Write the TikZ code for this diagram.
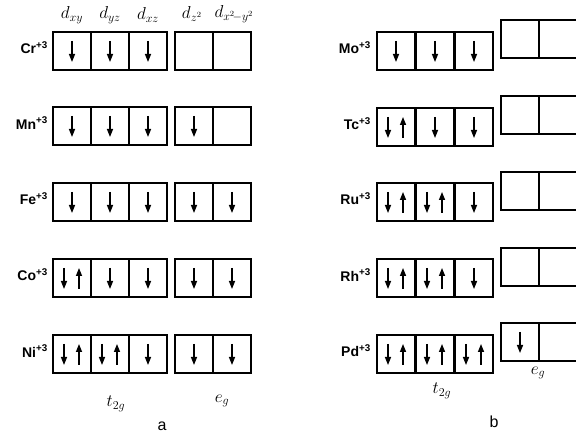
\documentclass[tikz,border=0pt]{standalone}
\usepackage{fontspec}
\setsansfont{Liberation Sans}
\usetikzlibrary{arrows.meta}
\tikzset{
  cell/.style={draw, rectangle, minimum width=38pt, minimum height=38pt, inner sep=0pt, line width=1.7pt},
  spin/.style={line width=1.4pt, -{Triangle[length=8pt,width=6pt]}},
  ion/.style={anchor=east, font=\sffamily\bfseries\fontsize{14}{16}\selectfont, inner sep=0pt},
  orb/.style={font=\fontsize{17}{19}\selectfont, inner sep=0pt},
  sym/.style={font=\fontsize{18}{20}\selectfont, inner sep=0pt},
  panel/.style={font=\sffamily\fontsize{16}{18}\selectfont, inner sep=0pt}
}
% #1 node name, #2 x, #3 y, #4 occupancy (0,1,2)
\newcommand{\orbcell}[4]{%
  \node[cell] (#1) at (#2,#3) {};
  \ifnum#4=1
    \draw[spin] ([yshift=10pt]#1.center) -- ([yshift=-11pt]#1.center);
  \fi
  \ifnum#4=2
    \draw[spin] ([xshift=-8pt,yshift=10pt]#1.center) -- ([xshift=-8pt,yshift=-11pt]#1.center);
    \draw[spin] ([xshift=7pt,yshift=-11pt]#1.center) -- ([xshift=7pt,yshift=10pt]#1.center);
  \fi
}
\newcommand{\chg}{\textsuperscript{+3}}
\begin{document}
\begin{tikzpicture}[x=1pt,y=-1pt]
\useasboundingbox (0,0) rectangle (576,435);
% ---------- panel a ----------
\node[orb] (dxy) at (72,15) {$d_{xy}$};
\node[orb] (dyz) at (110,15) {$d_{yz}$};
\node[orb] (dxz) at (148,15) {$d_{xz}$};
\node[orb] (dz2) at (192,14) {$d_{z^2}$};
\node[orb] (dx2) at (234,14) {$d_{x^2\!-y^2}$};
\foreach \nm/\y/\a/\b/\c/\d/\e/\lab in {
  Cr/51/1/1/1/0/0/{Cr\chg},
  Mn/126/1/1/1/1/0/{Mn\chg},
  Fe/202/1/1/1/1/1/{Fe\chg},
  Co/278/2/1/1/1/1/{Co\chg},
  Ni/354/2/2/1/1/1/{Ni\chg}}{
  \node[ion] (\nm lab) at (48,\y-3) {\lab};
  \orbcell{\nm t1}{72}{\y}{\a}
  \orbcell{\nm t2}{110}{\y}{\b}
  \orbcell{\nm t3}{148}{\y}{\c}
  \orbcell{\nm e1}{194}{\y}{\d}
  \orbcell{\nm e2}{232}{\y}{\e}
}
\node[sym] (t2ga) at (116,404) {$t_{2g}$};
\node[sym] (ega) at (222,401) {$e_g$};
\node[panel] (pa) at (162,426) {a};
% ---------- panel b ----------
\foreach \nm/\y/\ye/\a/\b/\c/\d/\lab in {
  Mo/51/39/1/1/1/0/{Mo\chg},
  Tc/127/115/2/1/1/0/{Tc\chg},
  Ru/202/191/2/2/1/0/{Ru\chg},
  Rh/278/267/2/2/1/0/{Rh\chg},
  Pd/354/342/2/2/2/1/{Pd\chg}}{
  \node[ion] (\nm lab) at (371,\y-3) {\lab};
  \orbcell{\nm t1}{396}{\y}{\a}
  \orbcell{\nm t2}{435}{\y}{\b}
  \orbcell{\nm t3}{474}{\y}{\c}
  \orbcell{\nm e1}{520}{\ye}{\d}
  \orbcell{\nm e2}{558}{\ye}{0}
}
\node[sym] (t2gb) at (442,391) {$t_{2g}$};
\node[sym] (egb) at (538,373) {$e_g$};
\node[panel] (pb) at (494,422) {b};
\end{tikzpicture}
\end{document}
